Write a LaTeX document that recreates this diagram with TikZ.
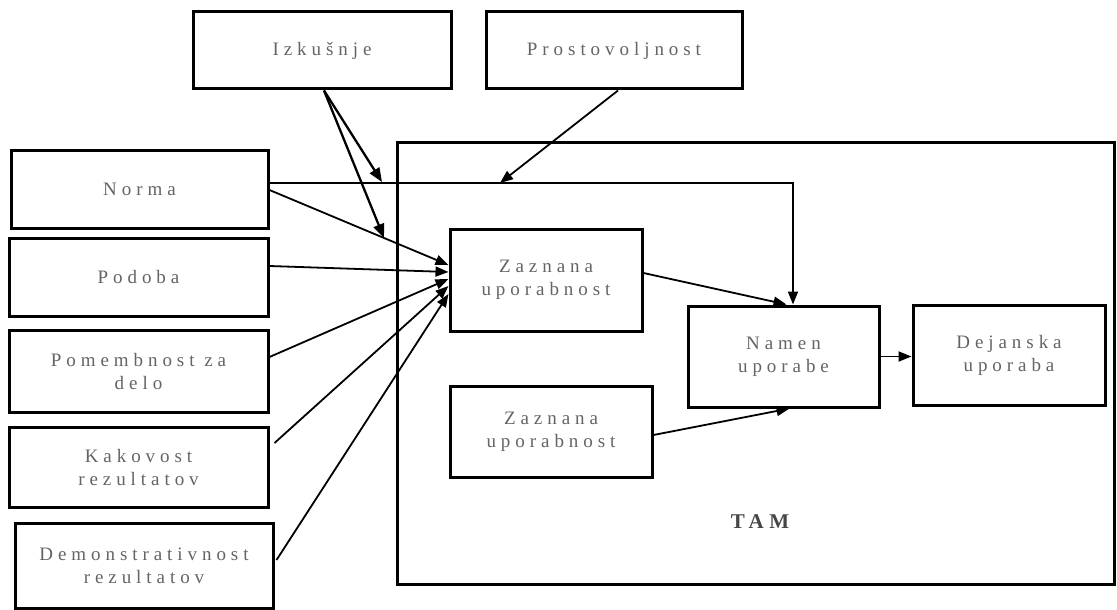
\documentclass[tikz,border=0pt]{standalone}
\usepackage{fontspec}
\setmainfont{Liberation Serif}[LetterSpace=26]
\usetikzlibrary{arrows.meta}
\definecolor{labelgray}{RGB}{100,100,100}
\tikzset{
  box/.style={draw=black, line width=3pt, rectangle, align=center, inner sep=0pt,
    text=labelgray, font=\fontsize{19}{23}\selectfont},
  arr/.style={line width=1.8pt, -{Triangle[length=13pt,width=10pt]}},
  thickarr/.style={line width=2.3pt, -{Triangle[length=14pt,width=11pt]}},
}
\begin{document}
\begin{tikzpicture}[x=1pt,y=-1pt]
\useasboundingbox (0,0) rectangle (1117,610);
% TAM frame
\node[box, minimum width=717pt, minimum height=442pt] (tam) at (755.5,363) {};
\node[text=labelgray!70!black, font=\fontsize{21}{24}\selectfont\bfseries] (tamlabel) at (760,522) {TAM};
% external factors
\node[box, minimum width=258pt, minimum height=77pt] (izk) at (322,50.5) {Izkušnje};
\node[box, minimum width=256pt, minimum height=77pt] (pro) at (614,50.5) {Prostovoljnost};
\node[box, minimum width=257pt, minimum height=78pt] (norma) at (139.5,189) {Norma};
\node[box, minimum width=259pt, minimum height=78pt] (podoba) at (138.5,277) {Podoba};
\node[box, minimum width=259pt, minimum height=82pt] (pomemb) at (138.5,371) {Pomembnost za\\delo};
\node[box, minimum width=259pt, minimum height=80pt] (kakov) at (138.5,467) {Kakovost\\rezultatov};
\node[box, minimum width=258pt, minimum height=85pt] (demo) at (144,565.5) {Demonstrativnost\\rezultatov};
% TAM core
\node[box, minimum width=192pt, minimum height=102pt] (zaz1) at (546,280) {Zaznana\\uporabnost};
\node[box, minimum width=202pt, minimum height=91pt] (zaz2) at (551,431.5) {Zaznana\\uporabnost};
\node[box, minimum width=191pt, minimum height=101pt] (namen) at (783.5,356.5) {Namen\\uporabe};
\node[box, minimum width=192pt, minimum height=100pt] (dej) at (1009,355) {Dejanska\\uporaba};
% moderator targets
\coordinate (m1) at (382,182);
\coordinate (m2) at (384,238);
\coordinate (m3) at (500,183);
% connectors
\draw[arr] ([yshift=6pt]norma.east) -| ([xshift=9.5pt]namen.north);
\draw[thickarr] ([xshift=2pt]izk.south) -- (m1);
\draw[thickarr] ([xshift=2pt]izk.south) -- (m2);
\draw[arr] ([xshift=4pt]pro.south) -- (m3);
\draw[arr] ([yshift=-1pt]norma.east) -- ([yshift=15pt]zaz1.west);
\draw[arr] ([yshift=11pt]podoba.east) -- ([yshift=8pt]zaz1.west);
\draw[arr] ([yshift=14pt]pomemb.east) -- ([yshift=1pt]zaz1.west);
\draw[arr] ([xshift=5pt,yshift=24pt]kakov.east) -- ([yshift=-6pt]zaz1.west);
\draw[arr] ([xshift=2pt,yshift=5.5pt]demo.east) -- ([yshift=-14pt]zaz1.west);
\draw[arr] ([yshift=7pt]zaz1.east) -- ([xshift=3pt]namen.north);
\draw[arr] ([yshift=-3.5pt]zaz2.east) -- ([xshift=6pt]namen.south);
\draw[arr] (namen.east) -- (namen.east -| dej.west);
\end{tikzpicture}
\end{document}
